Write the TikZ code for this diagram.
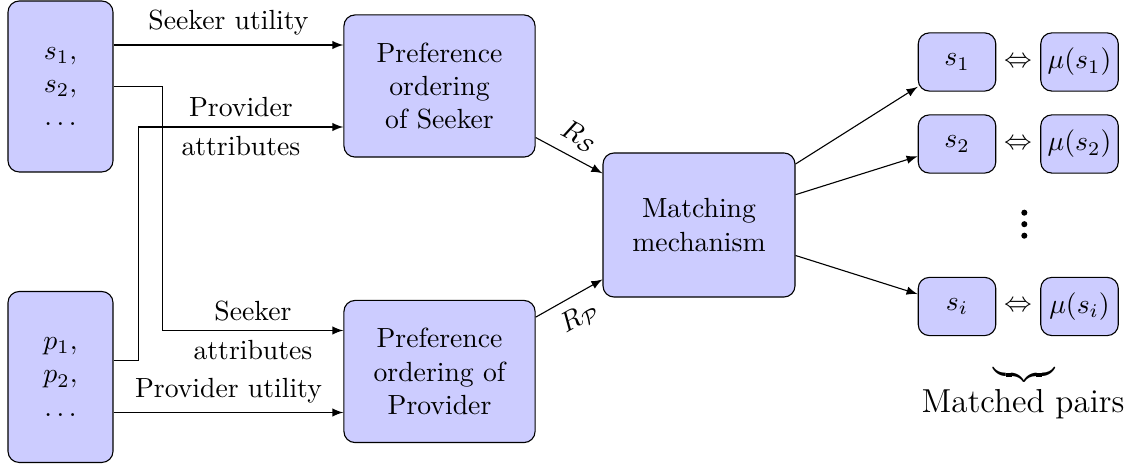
\documentclass[tikz,border=0pt]{standalone}
\usetikzlibrary{arrows,calc}
\begin{document}
\begin{tikzpicture}[x=0.361pt,y=-0.361pt,
  blk/.style={draw, fill=blue!20, rounded corners=4pt, align=center, inner sep=0pt},
  src/.style={blk, minimum width=37.9pt, minimum height=61.7pt},
  pref/.style={blk, minimum width=69pt, minimum height=51.3pt},
  pairbox/.style={blk, minimum width=28pt, minimum height=21pt},
  flow/.style={-latex},
]
\useasboundingbox (0,0) rectangle (1144,464);

% inputs
\node[src] (S) at (60.5,86.5) {$s_1,$\\ $s_2,$\\ $\dots$};
\node[src] (P) at (60.5,377) {$p_1,$\\ $p_2,$\\ $\dots$};

% preference orderings and matching
\node[pref] (PS) at (439.5,86) {Preference\\ ordering\\ of Seeker};
\node[pref] (PP) at (439.5,371.5) {Preference\\ ordering of\\ Provider};
\node[blk, minimum width=69.3pt, minimum height=52pt] (M) at (699,225) {Matching\\ mechanism};

% matched pairs
\node[pairbox] (A1) at (957,62) {$s_1$};
\node[pairbox] (A2) at (957,144) {$s_2$};
\node[pairbox] (Ai) at (957,306.5) {$s_i$};
\node[pairbox] (B1) at (1079.5,62) {$\mu(s_1)$};
\node[pairbox] (B2) at (1079.5,144) {$\mu(s_2)$};
\node[pairbox] (Bi) at (1079.5,306.5) {$\mu(s_i)$};
\node (E1) at (1018,62) {$\Leftrightarrow$};
\node (E2) at (1018,144) {$\Leftrightarrow$};
\node (Ei) at (1018,306.5) {$\Leftrightarrow$};
\fill (1024.3,212.7) circle (1.1pt) (1024.3,224.2) circle (1.1pt) (1024.3,235.7) circle (1.1pt);
\node[font=\large] (br) at (1024,375) {$\underbrace{\hspace{22pt}}$};
\node[font=\large, anchor=base] (mp) at (1023,413) {Matched pairs};

% inputs to preference orderings
\coordinate (su) at ([yshift=14.8pt]PS.west);
\coordinate (pu) at ([yshift=-14.8pt]PP.west);
\draw[flow] (su -| S.east) -- (su) node[midway, above] {Seeker utility};
\draw[flow] (pu -| P.east) -- (pu) node[midway, above] {Provider utility};
\draw[flow] (S.east) -- ++(17.7pt,0) |- ([yshift=14.8pt]PP.west)
  node[pos=0.75, above] {Seeker} node[pos=0.75, below] {attributes};
\draw[flow] ([yshift=6.1pt]P.east) -- ++(9pt,0) |- ([yshift=-14.8pt]PS.west)
  node[pos=0.75, above] {Provider} node[pos=0.75, below] {attributes};

% orderings into the mechanism
\draw[flow] (PS) -- (M) node[midway, above, sloped] {$R_{\mathcal{S}}$};
\draw[flow] (PP) -- (M) node[midway, below, sloped] {$R_{\mathcal{P}}$};

% mechanism output
\draw[flow] (M) -- (A1);
\draw[flow] (M) -- (A2);
\draw[flow] (M) -- (Ai);
\end{tikzpicture}
\end{document}
